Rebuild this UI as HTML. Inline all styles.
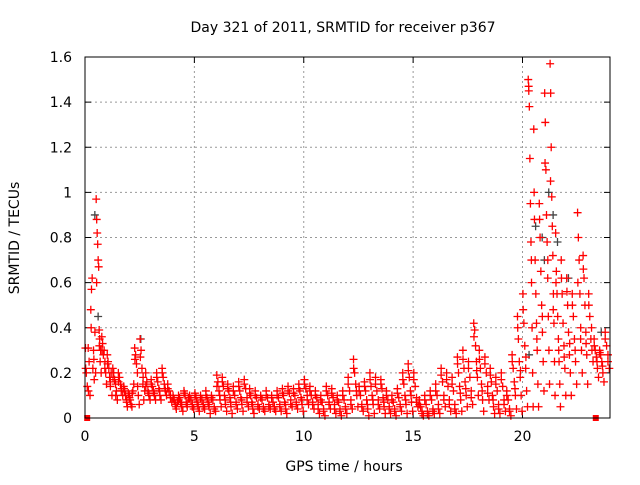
<!DOCTYPE html>
<html><head><meta charset="utf-8"><style>
body{margin:0;background:#fff}
svg text{font-family:"DejaVu Sans","Liberation Sans",sans-serif;font-size:14px;fill:#000}
</style></head><body>
<svg id="chart" width="640" height="480" viewBox="0 0 640 480">
<rect width="640" height="480" fill="#fff"/>
<text x="343" y="32" text-anchor="middle">Day 321 of 2011, SRMTID for receiver p367</text>
<text x="344" y="471" text-anchor="middle">GPS time / hours</text>
<text transform="translate(19,238) rotate(-90)" text-anchor="middle">SRMTID / TECUs</text>
<g id="grid"></g><g id="axes"></g><g id="black"></g><g id="red"></g>
<rect x="85" y="57" width="525" height="361" fill="none" stroke="#000" stroke-width="1"/>
</svg>
<script>
const xTicks=[0,5,10,15,20];
const yTicks=[0,0.2,0.4,0.6,0.8,1,1.2,1.4,1.6];
const yTickLabels=["0","0.2","0.4","0.6","0.8","1","1.2","1.4","1.6"];
const binWidth=0.25;
const redBins=[
[0.31,0.2,0.14,0.31,0.25,0.1],[0.48,0.57,0.62,0.22,0.3,0.17,0.38,0.2],[0.97,0.88,0.82,0.77,0.7,0.67,0.39,0.35,0.25,0.3,0.2],[0.36,0.33,0.28,0.3,0.25,0.2,0.15],
[0.28,0.25,0.22,0.18,0.14,0.2,0.1],[0.22,0.2,0.17,0.15,0.12,0.08],[0.2,0.18,0.15,0.13,0.1],[0.14,0.12,0.1,0.08,0.05,0.11],
[0.1,0.08,0.06,0.05,0.12,0.15],[0.31,0.28,0.24,0.2,0.1,0.06],[0.35,0.3,0.22,0.15,0.08,0.12],[0.2,0.16,0.12,0.1,0.08],
[0.17,0.14,0.12,0.1,0.08],[0.2,0.16,0.13,0.1,0.08],[0.22,0.18,0.15,0.12,0.1],[0.15,0.12,0.1,0.07],
[0.1,0.08,0.06,0.04,0.07],[0.1,0.09,0.07,0.05,0.03],[0.12,0.1,0.07,0.05,0.09],[0.1,0.08,0.06,0.04],
[0.11,0.09,0.07,0.05,0.03],[0.1,0.08,0.06,0.04],[0.12,0.09,0.07,0.05,0.02],[0.1,0.08,0.05,0.03],
[0.19,0.16,0.12,0.08,0.05],[0.18,0.14,0.1,0.06,0.03],[0.15,0.12,0.09,0.05,0.02],[0.14,0.1,0.07,0.04],
[0.16,0.12,0.09,0.06,0.03],[0.17,0.13,0.09,0.05],[0.13,0.1,0.07,0.04,0.02],[0.12,0.09,0.06,0.04],
[0.1,0.08,0.05,0.03],[0.12,0.09,0.06,0.04],[0.1,0.07,0.05,0.03],[0.12,0.09,0.06,0.03],
[0.13,0.1,0.07,0.04,0.02],[0.14,0.11,0.08,0.05],[0.13,0.1,0.07,0.04],[0.15,0.12,0.09,0.06,0.03],
[0.17,0.13,0.1,0.06],[0.14,0.1,0.07,0.04],[0.12,0.09,0.06,0.02],[0.1,0.07,0.04,0.01],
[0.14,0.1,0.07,0.04],[0.13,0.09,0.06,0.02],[0.1,0.07,0.04,0.01],[0.12,0.08,0.05,0.02],
[0.18,0.12,0.08,0.04],[0.26,0.2,0.15,0.1,0.05],[0.14,0.1,0.06,0.03],[0.16,0.12,0.08,0.04,0.01],
[0.2,0.14,0.1,0.06,0.02],[0.18,0.12,0.08,0.04],[0.17,0.13,0.09,0.05,0.02],[0.12,0.08,0.05,0.02],
[0.1,0.07,0.04,0.01],[0.13,0.09,0.06,0.03],[0.2,0.15,0.1,0.06,0.02],[0.24,0.18,0.12,0.07,0.03],
[0.2,0.14,0.09,0.05],[0.08,0.05,0.03,0.01],[0.1,0.06,0.03,0.01],[0.12,0.08,0.04,0.02],
[0.15,0.1,0.06,0.02],[0.22,0.16,0.1,0.05],[0.2,0.14,0.08,0.03],[0.18,0.12,0.06,0.02],
[0.27,0.2,0.14,0.08,0.03],[0.3,0.22,0.16,0.1,0.05],[0.25,0.18,0.12,0.06],[0.42,0.39,0.32,0.25,0.18,0.1],
[0.3,0.22,0.15,0.08,0.03],[0.27,0.2,0.14,0.08],[0.22,0.16,0.1,0.05,0.02],[0.18,0.12,0.06,0.02],
[0.2,0.14,0.08,0.03],[0.12,0.08,0.04,0.01],[0.28,0.22,0.16,0.1,0.04],[0.45,0.35,0.25,0.18,0.1,0.03],
[0.55,0.42,0.32,0.22,0.12,0.05],[1.5,1.45,1.38,1.15,0.95,0.78,0.6,0.4,0.2,0.05],[1.28,0.88,0.7,0.55,0.42,0.3,0.15,0.05],[0.95,0.8,0.65,0.5,0.38,0.25,0.12],
[1.44,1.31,1.1,0.9,0.78,0.62,0.45,0.3,0.15],[1.57,1.44,1.2,0.98,0.85,0.72,0.55,0.42,0.25,0.1],[0.82,0.65,0.55,0.45,0.35,0.25,0.15,0.05],[0.7,0.55,0.42,0.32,0.22,0.1],
[0.62,0.5,0.38,0.28,0.2,0.1],[0.55,0.45,0.35,0.25,0.15],[0.91,0.8,0.7,0.55,0.4,0.3,0.2],[0.72,0.62,0.5,0.38,0.28,0.15],
[0.55,0.45,0.35,0.3,0.25],[0.35,0.3,0.27,0.22,0.18],[0.3,0.28,0.25,0.2,0.16],[0.38,0.32,0.28,0.22]
];
const redBinsFill=[
[0.22,0.12],[0.4,0.26],[0.6,0.32],[0.3,0.22],[0.24,0.16],[0.18,0.1],[0.16,0.12],[0.13,0.07],
[0.09,0.11],[0.26,0.14],[0.27,0.18],[0.14,0.11],[0.15,0.11],[0.18,0.12],[0.2,0.13],[0.13,0.09],
[0.09,0.05],[0.08,0.06],[0.11,0.06],[0.09,0.05],[0.1,0.06],[0.09,0.05],[0.1,0.06],[0.09,0.04],
[0.14,0.1],[0.16,0.08],[0.13,0.07],[0.12,0.06],[0.14,0.08],[0.15,0.07],[0.11,0.06],[0.1,0.05],
[0.09,0.04],[0.1,0.05],[0.09,0.04],[0.1,0.05],[0.11,0.06],[0.12,0.06],[0.11,0.06],[0.13,0.08],
[0.15,0.08],[0.12,0.06],[0.1,0.04],[0.08,0.03],[0.12,0.06],[0.11,0.04],[0.08,0.03],[0.1,0.04],
[0.15,0.06],[0.22,0.12],[0.12,0.05],[0.14,0.06],[0.17,0.08],[0.15,0.06],[0.15,0.07],[0.1,0.04],
[0.08,0.03],[0.11,0.05],[0.17,0.08],[0.21,0.1],[0.17,0.07],[0.06,0.02],[0.08,0.02],[0.1,0.03],
[0.12,0.04],[0.19,0.08],[0.17,0.06],[0.15,0.04],[0.24,0.11],[0.26,0.13],[0.22,0.09],[0.36,0.21],
[0.26,0.12],[0.24,0.11],[0.19,0.08],[0.15,0.04],[0.17,0.06],[0.1,0.03],[0.25,0.13],[0.4,0.21],
[0.48,0.27],[1.47,0.7],[1.0,0.35],[0.88,0.45],[1.13,0.7],[1.05,0.48],[0.6,0.3],[0.62,0.27],
[0.56,0.33],[0.5,0.3],[0.6,0.35],[0.66,0.33],[0.5,0.4],[0.32,0.25],[0.29,0.23],[0.35,0.25]
];
const blackTimes=[0.45,0.6,2.55,20.6,20.9,21.2,21.4,21.6,22.1,23.6,20.3,21.0];
const blackValues=[0.9,0.45,0.35,0.85,0.8,1.0,0.9,0.78,0.62,0.38,0.28,0.7];
const squareTimes=[0.1,23.35];
const squareValues=[0,0];

const NS="http://www.w3.org/2000/svg";
const X0=85,X1=610,Y0=418,Y1=57,XMAX=24,YMAX=1.6;
function sx(t){return X0+(X1-X0)*t/XMAX;}
function sy(v){return Y0-(Y0-Y1)*v/YMAX;}
function mk(tag,attrs,parent){const e=document.createElementNS(NS,tag);for(const k in attrs)e.setAttribute(k,attrs[k]);parent.appendChild(e);return e;}
const grid=document.getElementById('grid'),axes=document.getElementById('axes');
xTicks.forEach(t=>{
  const x=sx(t);
  if(t>0){const g=mk('line',{x1:x,x2:x,y1:Y0,y2:Y1,stroke:'#999','stroke-dasharray':'2,3'},grid);
  
  }
  mk('line',{x1:x,x2:x,y1:Y0,y2:Y0-6,stroke:'#000'},axes);
  mk('line',{x1:x,x2:x,y1:Y1,y2:Y1+6,stroke:'#000'},axes);
  const l=mk('text',{x:x,y:Y0+23,'text-anchor':'middle'},axes);l.textContent=String(t);
  
  
});
yTicks.forEach((v,i)=>{
  const y=sy(v);
  if(v>0&&v<YMAX){const g=mk('line',{x1:X0,x2:X1,y1:y,y2:y,stroke:'#999','stroke-dasharray':'2,3'},grid);
  
  }
  mk('line',{x1:X0,x2:X0+6,y1:y,y2:y,stroke:'#000'},axes);
  mk('line',{x1:X1,x2:X1-6,y1:y,y2:y,stroke:'#000'},axes);
  const l=mk('text',{x:X0-13,y:y+5,'text-anchor':'end'},axes);l.textContent=yTickLabels[i];
  
  
});
function plus(t,v,color,parent){
  const x=sx(t),y=sy(v);
  return mk('path',{d:`M${x-4},${y}H${x+4}M${x},${y-4}V${y+4}`,stroke:color,'stroke-width':1.3,fill:'none'},parent);
}
const blackG=document.getElementById('black');
blackTimes.forEach((t,i)=>{const p=plus(t,blackValues[i],'#444',blackG);
  
  });
const redG=document.getElementById('red');
function drawBins(bins,offset){
  bins.forEach((vals,b)=>{
    vals.forEach((v,j)=>{
      const t=b*binWidth+binWidth*(j+offset)/vals.length;
      const p=plus(t,v,'#f00',redG);
      
      
    });
  });
}
drawBins(redBins,0.5);
drawBins(redBinsFill,0.25);
squareTimes.forEach((t,i)=>{
  const s=mk('rect',{x:sx(t)-3,y:sy(squareValues[i])-3,width:6,height:6,fill:'#f00'},redG);
  
  
});
</script>
</body></html>
